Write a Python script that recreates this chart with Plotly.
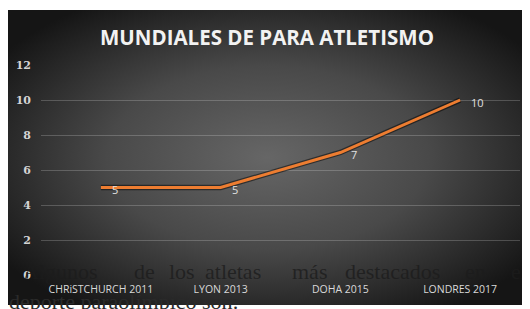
import base64
import plotly.graph_objects as go

categories = ["CHRiSTCHURCH 2011", "LYON 2013", "DOHA 2015", "LONDRES 2017"]
values = [5, 5, 7, 10]
y_ticks = [0, 2, 4, 6, 8, 10, 12]
title = "MUNDIALES DE PARA ATLETISMO"
line1_words = ["Algunos", "de", "los", "atletas", "más", "destacados", "en", "el"]
line1_x = [21, 132, 167, 203, 290, 343, 463, 509]
line2 = "deporte paraolímpico son:"

# page offset (browser body margin) and figure size
OX, OY = 8, 8
W, H = 530 - OX, 309 - OY
# plot area in page pixels
PL, PR, PT, PB = 41, 520, 65, 275
L, R, T, B = PL - OX, (530 - PR), PT - OY, 309 - PB
pw, ph = PR - PL, PB - PT


def px(x):
    return (x - PL) / pw


def py(y):
    return (PB - y) / ph


BG_X0, BG_X1, BG_Y0, BG_Y1 = 8, 527, 10, 305
bw, bh = BG_X1 - BG_X0, BG_Y1 - BG_Y0

svg = (
    f"<svg xmlns='http://www.w3.org/2000/svg' width='{bw}' height='{bh}'>"
    "<defs><radialGradient id='g' cx='0.5' cy='0.5' r='0.62'>"
    "<stop offset='0' stop-color='#666666'/>"
    "<stop offset='0.5' stop-color='#494949'/>"
    "<stop offset='1' stop-color='#151515'/>"
    "</radialGradient></defs>"
    f"<rect width='{bw}' height='{bh}' fill='url(#g)'/></svg>"
)
src = "data:image/svg+xml;base64," + base64.b64encode(svg.encode()).decode()

fig = go.Figure()
fig.add_trace(go.Scatter(
    x=categories, y=values, mode="lines",
    line=dict(color="rgba(0,0,0,0.5)", width=5.5),
    hoverinfo="skip", showlegend=False,
))
fig.add_trace(go.Scatter(
    x=categories, y=values, mode="lines",
    line=dict(color="#ED7D31", width=3),
    showlegend=False,
))

annotations = []
for c, v in zip(categories, values):
    annotations.append(dict(
        x=c, y=v, xref="x", yref="y", text=str(v), showarrow=False,
        xanchor="left", yanchor="middle", xshift=9, yshift=-2,
        font=dict(family="Open Sans", size=11, color="#e0e0e0"),
    ))

annotations.append(dict(
    x=px(267), y=py(37), xref="paper", yref="paper", text="<b>" + title + "</b>",
    showarrow=False, yanchor="middle",
    font=dict(family="Open Sans", size=20.5, color="#f2f2f2"),
))

for w, x in zip(line1_words, line1_x):
    annotations.append(dict(
        x=px(x), y=py(271), xref="paper", yref="paper", text=w, showarrow=False,
        xanchor="left", yanchor="middle",
        font=dict(family="Liberation Serif", size=22, color="rgba(28,28,28,0.8)"),
    ))
annotations.append(dict(
    x=px(7), y=py(301), xref="paper", yref="paper", text=line2, showarrow=False,
    xanchor="left", yanchor="middle",
    font=dict(family="Liberation Serif", size=22, color="#2a2a2a"),
))

fig.update_layout(
    width=W, height=H,
    margin=dict(l=L, r=R, t=T, b=B, autoexpand=False),
    paper_bgcolor="white",
    plot_bgcolor="rgba(0,0,0,0)",
    images=[dict(
        source=src, xref="paper", yref="paper",
        x=px(BG_X0), y=py(BG_Y0), sizex=bw / pw, sizey=bh / ph,
        xanchor="left", yanchor="top", sizing="stretch", layer="below",
    )],
    annotations=annotations,
    xaxis=dict(
        type="category", range=[-0.5, 3.5], showgrid=False, zeroline=False,
        showline=False, ticks="", ticklabelstandoff=6, automargin=False,
        tickfont=dict(family="Open Sans", size=10.5, color="#d9d9d9"),
    ),
    yaxis=dict(
        range=[0, 12], tickvals=y_ticks, showgrid=True,
        gridcolor="rgba(255,255,255,0.2)", gridwidth=1, zeroline=False,
        showline=False, ticks="", ticklabelstandoff=9, automargin=False,
        tickfont=dict(family="DejaVu Serif", size=11, color="#d4d4d4", weight="bold"),
    ),
)

fig.write_html("out.html")
